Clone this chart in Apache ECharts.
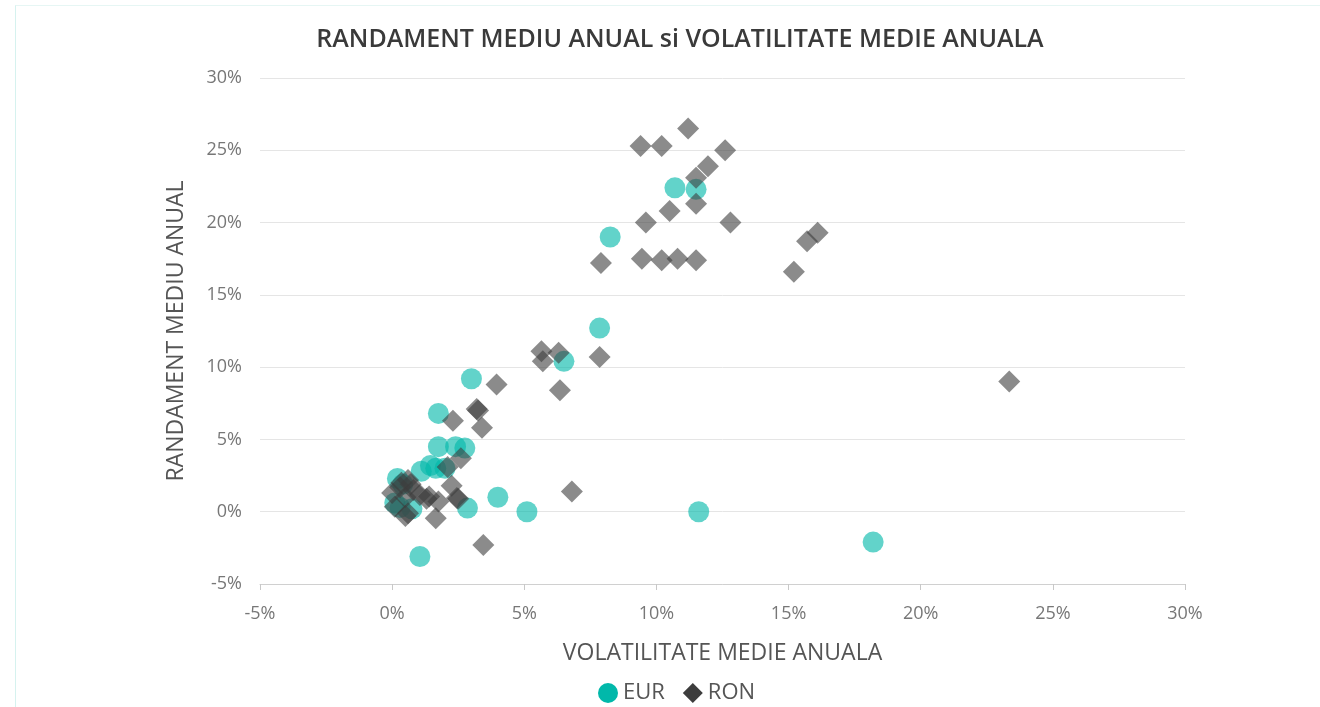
<!DOCTYPE html>
<html>
<head>
<meta charset="utf-8">
<script src="https://cdn.jsdelivr.net/npm/echarts@6/dist/echarts.min.js"></script>
<style>
  html, body { margin: 0; padding: 0; background: #fff; }
  #frame { position: absolute; left: 15px; top: 5px; right: 0; bottom: 0;
           border-left: 1px solid #d6f2ef; border-top: 1px solid #e6f6f4; }
  #chart { position: absolute; left: 0; top: 0; width: 1320px; height: 707px; }
</style>
</head>
<body>
<div id="frame"></div>
<div id="chart"></div>
<script>
// axis ticks (percent)
const axisMin = -5;
const axisMax = 30;
const axisStep = 5;

// EUR: [volatility %, return %]
const eurPoints = [
  [10.7, 22.4], [11.5, 22.3], [8.25, 19.0], [7.85, 12.7], [6.5, 10.4],
  [3.0, 9.2], [1.75, 6.8], [1.75, 4.5], [2.4, 4.5], [2.75, 4.4],
  [1.45, 3.2], [1.65, 3.0], [1.1, 2.8], [2.0, 3.0], [0.4, 1.9],
  [0.2, 2.3], [4.0, 1.0], [5.1, 0.0], [11.6, 0.0], [18.2, -2.1],
  [1.05, -3.1], [2.85, 0.25], [0.1, 0.6], [0.75, 0.2], [0.3, 0.3]
];

// RON: [volatility %, return %]
const ronPoints = [
  [12.85, 30.6], [11.2, 26.5], [9.4, 25.3], [10.2, 25.3], [12.6, 25.0],
  [11.5, 23.1], [11.95, 23.9], [11.5, 21.3], [10.5, 20.8], [9.6, 20.0],
  [12.8, 20.0], [7.9, 17.2], [9.45, 17.5], [10.2, 17.4], [10.8, 17.5],
  [11.5, 17.4], [15.2, 16.6], [15.7, 18.7], [16.1, 19.3], [23.35, 9.0],
  [5.65, 11.1], [5.7, 10.4], [6.3, 11.0], [7.85, 10.7], [6.35, 8.4],
  [3.95, 8.8], [3.2, 7.1], [3.25, 7.0], [2.3, 6.3], [3.4, 5.8],
  [2.6, 3.7], [2.1, 3.1], [2.25, 1.8], [2.45, 0.95], [2.5, 0.9],
  [1.75, 0.7], [1.4, 1.05], [1.65, -0.45], [3.45, -2.3], [6.8, 1.4],
  [0.5, -0.3], [0.6, 2.2], [0.3, 1.7], [0.8, 1.5], [0.0, 1.3],
  [1.05, 1.15], [0.5, 1.0], [0.1, 0.35], [0.6, -0.1], [1.3, 0.9],
  [0.35, 2.0], [0.7, 1.9]
];

const eurColor = '#01B8AA';
const ronColor = '#3d3d3d';
const fontFamily = '"Open Sans", "Noto Sans", sans-serif';

const chart = echarts.init(document.getElementById('chart'));

const option = {
  animation: false,
  textStyle: { fontFamily: fontFamily },
  title: {
    text: 'RANDAMENT MEDIU ANUAL si VOLATILITATE MEDIE ANUALA',
    left: 675,
    textAlign: 'center',
    top: 22,
    textStyle: { fontSize: 25, fontWeight: 600, color: '#3a3a3a', fontFamily: fontFamily }
  },
  legend: {
    bottom: -2,
    left: 593,
    itemGap: 18,
    itemWidth: 20,
    itemHeight: 20,
    textStyle: { fontSize: 22, color: '#555', fontFamily: fontFamily },
    data: [
      { name: 'EUR', icon: 'circle', itemStyle: { color: eurColor, opacity: 1 } },
      { name: 'RON', icon: 'diamond', itemStyle: { color: ronColor, opacity: 1 } }
    ]
  },
  grid: { left: 260, right: 135, top: 78, bottom: 123 },
  xAxis: {
    type: 'value',
    min: axisMin, max: axisMax, interval: axisStep,
    name: 'VOLATILITATE MEDIE ANUALA',
    nameLocation: 'middle',
    nameGap: 58,
    nameTextStyle: { fontSize: 23, color: '#555' },
    axisLine: { show: true, onZero: false, lineStyle: { color: '#d0d0d0', width: 1 } },
    axisTick: { show: true, length: 6, lineStyle: { color: '#c8c8c8' } },
    axisLabel: { fontSize: 18, color: '#777', margin: 21, formatter: v => v + '%' },
    splitLine: { show: false }
  },
  yAxis: {
    type: 'value',
    min: axisMin, max: axisMax, interval: axisStep,
    name: 'RANDAMENT MEDIU ANUAL',
    nameLocation: 'middle',
    nameGap: 72,
    nameTextStyle: { fontSize: 23, color: '#555' },
    axisLine: { show: false },
    axisTick: { show: false },
    axisLabel: { fontSize: 18, color: '#777', margin: 18, formatter: v => v + '%' },
    splitLine: { lineStyle: { color: '#e5e5e5', width: 1 } }
  },
  series: [
    {
      name: 'EUR',
      type: 'scatter',
      symbol: 'circle',
      symbolSize: 21,
      itemStyle: { color: eurColor, opacity: 0.62 },
      data: eurPoints
    },
    {
      name: 'RON',
      type: 'scatter',
      symbol: 'diamond',
      symbolSize: 22,
      itemStyle: { color: ronColor, opacity: 0.6 },
      data: ronPoints
    }
  ]
};

chart.setOption(option);
</script>
</body>
</html>
